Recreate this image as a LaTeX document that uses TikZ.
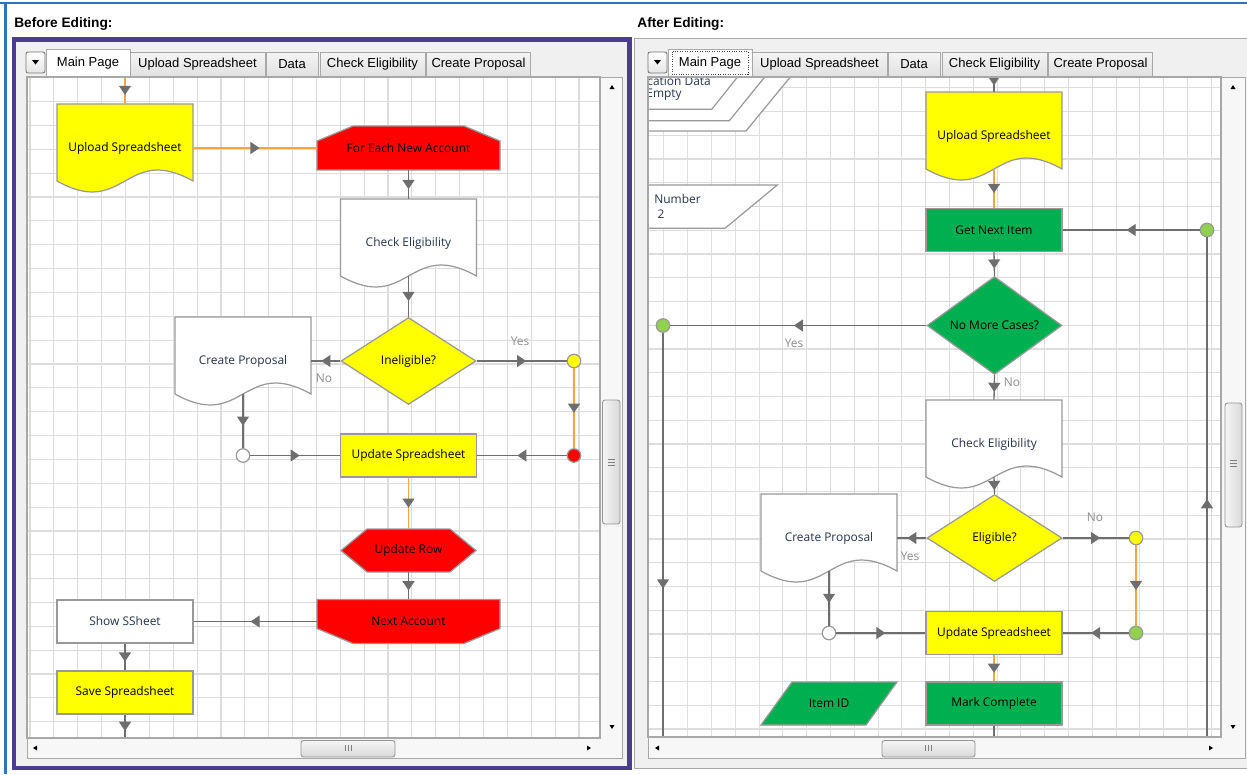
\documentclass[tikz,border=0pt]{standalone}
\usepackage{fontspec}
\setmainfont{Open Sans}
\newfontfamily\uifont{Liberation Sans}
\usetikzlibrary{shapes.geometric, arrows.meta, decorations.markings, positioning}

\definecolor{flowyellow}{HTML}{FFFF00}
\definecolor{flowred}{HTML}{FF0000}
\definecolor{flowgreen}{HTML}{00B050}
\definecolor{dotgreen}{HTML}{92D050}
\definecolor{flowline}{HTML}{6E6E6E}
\definecolor{floworange}{HTML}{F7A540}
\definecolor{shapegray}{HTML}{999999}
\definecolor{gridgray}{HTML}{DDDDDD}
\definecolor{panelgray}{HTML}{F0F0F0}
\definecolor{bordergray}{HTML}{A8A8A8}
\definecolor{framepurple}{HTML}{4B3C8E}
\definecolor{frameblue}{HTML}{2E75B6}
\definecolor{labelgray}{HTML}{8C8C8C}
\definecolor{navytext}{HTML}{24334D}

\newcommand{\nodefont}{\fontsize{6.8}{8}\selectfont}
\newcommand{\tabfont}{\uifont\fontsize{7.4}{9}\selectfont}

\tikzstyle{gridline} = [draw=gridgray, line width=0.65pt]
\tikzstyle{shapeframe} = [draw=shapegray, line width=0.7pt]
\tikzstyle{shapetext} = [rectangle, inner sep=0pt, font=\nodefont]
\tikzstyle{process} = [rectangle, minimum width=2.72cm, minimum height=0.86cm, inner sep=0pt, draw=shapegray, line width=0.7pt, font=\nodefont]
\tikzstyle{decision} = [diamond, minimum width=2.7cm, minimum height=1.74cm, inner sep=0pt, draw=shapegray, line width=0.7pt, font=\nodefont]
\tikzstyle{junction} = [circle, minimum size=0.27cm, inner sep=0pt, draw=shapegray, line width=0.7pt]
\tikzstyle{flowlabel} = [inner sep=0pt, font=\nodefont, text=labelgray]
\tikzstyle{arrow} = [draw=flowline, line width=0.75pt, postaction={decorate}, decoration={markings, mark=at position 0.5 with {\arrow[xshift=2.6pt]{Triangle[length=5.2pt, width=6.8pt, color=flowline]}}}]
\tikzstyle{arrowO} = [arrow, draw=floworange, line width=0.85pt]
\tikzstyle{tab} = [rectangle, draw=bordergray, line width=0.5pt, top color=white!96!black, bottom color=black!12, inner sep=0pt, minimum height=0.5cm, font=\tabfont]
\tikzstyle{tabActive} = [rectangle, draw=bordergray, line width=0.5pt, fill=white, inner sep=0pt, minimum width=1.68cm, minimum height=0.56cm, font=\tabfont]
\tikzstyle{ddbutton} = [rectangle, rounded corners=1.2pt, draw=black!55, line width=0.5pt, top color=white, bottom color=black!10, minimum width=0.38cm, minimum height=0.42cm, inner sep=0pt]
\tikzstyle{thumb} = [draw=black!42, line width=0.5pt, rounded corners=1.5pt]

% document shape: name, x, y, fill, text colour, text
\newcommand{\docnode}[6]{%
  \filldraw[shapeframe, fill=#4] (#2-68,#3-44) -- (#2+68,#3-44) -- (#2+68,#3+33)
    .. controls (#2,#3-5) and (#2,#3+71) .. (#2-68,#3+33) -- cycle;
  \node (#1) [shapetext, text=#5, minimum width=2.72cm, minimum height=1.76cm] at (#2,#3) {#6};
  \coordinate (#1-b) at (#2,#3+33);}
% loop limits and hexagon
\newcommand{\loopstart}[4]{%
  \filldraw[shapeframe, fill=flowred] (#2-91.5,#3+22) -- (#2-91.5,#3-7) -- (#2-55.5,#3-22)
    -- (#2+55.5,#3-22) -- (#2+91.5,#3-7) -- (#2+91.5,#3+22) -- cycle;
  \node (#1) [shapetext, minimum width=3.66cm, minimum height=0.88cm] at (#2,#3) {#4};}
\newcommand{\loopend}[4]{%
  \filldraw[shapeframe, fill=flowred] (#2-91.5,#3-22) -- (#2-91.5,#3+7) -- (#2-55.5,#3+22)
    -- (#2+55.5,#3+22) -- (#2+91.5,#3+7) -- (#2+91.5,#3-22) -- cycle;
  \node (#1) [shapetext, minimum width=3.66cm, minimum height=0.88cm] at (#2,#3) {#4};}
\newcommand{\hexnode}[4]{%
  \filldraw[shapeframe, fill=flowred] (#2-67.5,#3) -- (#2-41.5,#3-21.5) -- (#2+41.5,#3-21.5)
    -- (#2+67.5,#3) -- (#2+41.5,#3+21.5) -- (#2-41.5,#3+21.5) -- cycle;
  \node (#1) [shapetext, minimum width=2.7cm, minimum height=0.86cm] at (#2,#3) {#4};}

\begin{document}
\begin{tikzpicture}[x=0.02cm, y=-0.02cm]
\useasboundingbox (0,0) rectangle (1247,774);
\fill[white] (0,0) rectangle (1247,774);
\draw[frameblue, line width=1.7pt] (0,3) -- (1247,3);
\draw[frameblue, line width=1.7pt] (5.5,3) -- (5.5,774);

% headings
\node (beforeHd) [anchor=base west, inner sep=0pt, font=\uifont\bfseries\fontsize{7.8}{9}\selectfont] at (14,28) {Before Editing:};
\node (afterHd) [anchor=base west, inner sep=0pt, font=\uifont\bfseries\fontsize{7.8}{9}\selectfont] at (637,28) {After Editing:};

% panels
\filldraw[fill=panelgray, draw=framepurple, line width=2.3pt] (14,39.5) rectangle (629.5,768);
\filldraw[fill=panelgray, draw=bordergray, line width=0.5pt] (634,38) rectangle (1247,768);

% ---------------- before editing ----------------
\node (ddL) [ddbutton] at (35.5,62.5) {};
\fill (32,60) -- (39,60) -- (35.5,64.5) -- cycle;
\node (upTabL) [tab, minimum width=2.7cm] at (197.5,64.5) {Upload Spreadsheet};
\node (dataTabL) [tab, minimum width=1.04cm] at (292,64.5) {Data};
\node (chkTabL) [tab, minimum width=2.1cm] at (372.5,64.5) {Check Eligibility};
\node (propTabL) [tab, minimum width=2.08cm] at (478.5,64.5) {Create Proposal};
\filldraw[fill=white!97!black, draw=bordergray, line width=0.5pt] (27,77) rectangle (622,758);
\node (mainTabL) [tabActive] at (88,63) {Main Page};

\fill[white] (27,77) rectangle (600,738);
\begin{scope}
  \clip (27,77) rectangle (600,738);
  \foreach \gx in {0,...,23}
    \draw[gridline] (30+\gx*23.87,77) -- (30+\gx*23.87,738);
  \foreach \gy in {1,...,27}
    \draw[gridline] (27,77.8+\gy*23.85) -- (600,77.8+\gy*23.85);

  \docnode{upL}{125}{148}{flowyellow}{black}{Upload Spreadsheet}
  \loopstart{forL}{408.5}{148}{For Each New Account}
  \docnode{chkL}{408.5}{243}{white}{navytext}{Check Eligibility}
  \node (inelL) [decision, fill=flowyellow] at (408.5,361) {Ineligible?};
  \docnode{propL}{243}{361}{white}{navytext}{Create Proposal}
  \node (updL) [process, fill=flowyellow] at (408.5,455.5) {Update Spreadsheet};
  \hexnode{rowL}{408.5}{550.5}{Update Row}
  \loopend{nextL}{408.5}{621.5}{Next Account}
  \node (showL) [process, fill=white, text=navytext] at (125,621.5) {Show SSheet};
  \node (saveL) [process, fill=flowyellow] at (125,692.5) {Save Spreadsheet};
  \node (yesDotL) [junction, fill=flowyellow] at (574,361) {};
  \node (redDotL) [junction, fill=flowred] at (574,455.5) {};
  \node (joinL) [junction, fill=white] at (243,455.5) {};
  \coordinate (topL) at (125,77);
  \coordinate (endL) at (125,738);

  \draw [arrowO] (topL) -- (upL.north);
  \draw [arrowO] (upL.east) -- (forL.west);
  \draw [arrow] (forL.south) -- (chkL.north);
  \draw [arrow] (chkL-b) -- (inelL.north);
  \draw [arrow] (inelL.east) -- (yesDotL.west);
  \draw [arrowO] (yesDotL.south) -- (redDotL.north);
  \draw [arrow] (redDotL.west) -- (updL.east);
  \draw [arrow] (inelL.west) -- (propL.east);
  \draw [arrow] (propL-b) -- (joinL.north);
  \draw [arrow] (joinL.east) -- (updL.west);
  \draw [arrowO] (updL.south) -- (rowL.north);
  \draw [arrow] (rowL.south) -- (nextL.north);
  \draw [arrow] (nextL.west) -- (showL.east);
  \draw [arrow] (showL.south) -- (saveL.north);
  \draw [arrow] (saveL.south) -- (endL);
  \node (yesL) [flowlabel] at (520,341) {Yes};
  \node (noL) [flowlabel] at (324,378) {No};
\end{scope}
\draw[bordergray, line width=0.6pt] (27,77) rectangle (600,738);

% scroll bars
\fill (612,85) -- (609.5,89) -- (614.5,89) -- cycle;
\fill (612,729) -- (609.5,725) -- (614.5,725) -- cycle;
\draw[thumb, left color=white!96!black, right color=black!15] (602.5,400) rectangle (620,524);
\foreach \gl in {459,462,465} \draw[black!50, line width=0.4pt] (608,\gl) -- (615,\gl);
\fill (33,748) -- (37,745.5) -- (37,750.5) -- cycle;
\fill (591,748) -- (587,745.5) -- (587,750.5) -- cycle;
\draw[thumb, top color=white!96!black, bottom color=black!15] (301,740.5) rectangle (395,757);
\foreach \gl in {345,348,351} \draw[black!50, line width=0.4pt] (\gl,745) -- (\gl,751);

% ---------------- after editing ----------------
\node (ddR) [ddbutton] at (657.5,62.5) {};
\fill (654,60) -- (661,60) -- (657.5,64.5) -- cycle;
\node (upTabR) [tab, minimum width=2.7cm] at (819.5,64.5) {Upload Spreadsheet};
\node (dataTabR) [tab, minimum width=1.04cm] at (914,64.5) {Data};
\node (chkTabR) [tab, minimum width=2.1cm] at (994.5,64.5) {Check Eligibility};
\node (propTabR) [tab, minimum width=2.08cm] at (1100.5,64.5) {Create Proposal};
\filldraw[fill=white!97!black, draw=bordergray, line width=0.5pt] (648,77) rectangle (1245,758);
\node (mainTabR) [tabActive] at (710,63) {Main Page};
\draw[densely dotted, black!70, line width=0.4pt] (672,51.5) rectangle (748,74.5);

\fill[white] (648,77) rectangle (1221,737);
\begin{scope}
  \clip (648,77) rectangle (1221,737);
  \foreach \gx in {0,...,23}
    \draw[gridline] (663.9+\gx*23.8,77) -- (663.9+\gx*23.8,737);
  \foreach \gy in {0,...,27}
    \draw[gridline] (648,87.7+\gy*23.75) -- (1221,87.7+\gy*23.75);

  % data shapes scrolled off to the left
  \filldraw[shapeframe, fill=white] (600,131) -- (746,131) -- (820.6,40) -- (600,40) -- cycle;
  \filldraw[shapeframe, fill=white] (600,120.7) -- (729.3,120.7) -- (794.7,40) -- (600,40) -- cycle;
  \filldraw[shapeframe, fill=white] (600,109.3) -- (711.7,109.3) -- (767.1,40) -- (600,40) -- cycle;
  \node (appR) [shapetext, text=navytext, anchor=west] at (647,81) {cation Data};
  \node (emptyR) [shapetext, text=navytext, anchor=west] at (646,95) {Empty};
  \filldraw[shapeframe, fill=white] (600,185) -- (777.3,185) -- (725,228.3) -- (600,228.3) -- cycle;
  \node (numR) [shapetext, text=navytext, anchor=west] at (654,199) {Number};
  \node (numValR) [shapetext, text=navytext] at (661,214) {2};

  \docnode{upR}{994}{136}{flowyellow}{black}{Upload Spreadsheet}
  \node (getR) [process, fill=flowgreen] at (994,230) {Get Next Item};
  \node (moreR) [decision, fill=flowgreen] at (994.5,325.5) {No More Cases?};
  \docnode{chkR}{994}{444}{white}{navytext}{Check Eligibility}
  \node (eligR) [decision, fill=flowyellow] at (994.5,538) {Eligible?};
  \docnode{propR}{829}{538}{white}{navytext}{Create Proposal}
  \node (updR) [process, fill=flowyellow] at (994,633) {Update Spreadsheet};
  \node (markR) [process, fill=flowgreen] at (994,703.5) {Mark Complete};
  \filldraw[shapeframe, fill=flowgreen] (761,725) -- (792,682) -- (897,682) -- (866,725) -- cycle;
  \node (itemR) [shapetext] at (829,703.5) {Item ID};
  \node (loopDotR) [junction, fill=dotgreen] at (1207,230) {};
  \node (yesDotR) [junction, fill=dotgreen] at (663,325.5) {};
  \node (noDotR) [junction, fill=flowyellow] at (1136,538) {};
  \node (backDotR) [junction, fill=dotgreen] at (1136,633) {};
  \node (joinR) [junction, fill=white] at (829,633) {};
  \coordinate (topR) at (994,70);
  \coordinate (downR) at (663,835);
  \coordinate (riseR) at (1207,770);
  \coordinate (endR) at (994,757);

  \draw [arrow] (topR) -- (upR.north);
  \draw [arrowO] (upR-b) -- (getR.north);
  \draw [arrow] (getR.south) -- (moreR.north);
  \draw [arrow] (moreR.west) -- (yesDotR.east);
  \draw [arrow] (yesDotR.south) -- (downR);
  \draw [arrow] (moreR.south) -- (chkR.north);
  \draw [arrow] (chkR-b) -- (eligR.north);
  \draw [arrow] (eligR.east) -- (noDotR.west);
  \draw [arrowO] (noDotR.south) -- (backDotR.north);
  \draw [arrow] (backDotR.west) -- (updR.east);
  \draw [arrow] (eligR.west) -- (propR.east);
  \draw [arrow] (propR-b) -- (joinR.north);
  \draw [arrow] (joinR.east) -- (updR.west);
  \draw [arrowO] (updR.south) -- (markR.north);
  \draw [arrow] (markR.south) -- (endR);
  \draw [arrow] (riseR) -- (loopDotR.south);
  \draw [arrow] (loopDotR.west) -- (getR.east);
  \node (yesMoreR) [flowlabel] at (794,343) {Yes};
  \node (noMoreR) [flowlabel] at (1012,382) {No};
  \node (noEligR) [flowlabel] at (1095,517) {No};
  \node (yesEligR) [flowlabel] at (910,556) {Yes};
\end{scope}
\draw[bordergray, line width=0.6pt] (648,77) rectangle (1221,737);

% scroll bars
\fill (1233,85) -- (1230.5,89) -- (1235.5,89) -- cycle;
\fill (1233,729) -- (1230.5,725) -- (1235.5,725) -- cycle;
\draw[thumb, left color=white!96!black, right color=black!15] (1225,403) rectangle (1242,527);
\foreach \gl in {460,463,466} \draw[black!50, line width=0.4pt] (1230,\gl) -- (1237,\gl);
\fill (655,748) -- (659,745.5) -- (659,750.5) -- cycle;
\fill (1213,748) -- (1209,745.5) -- (1209,750.5) -- cycle;
\draw[thumb, top color=white!96!black, bottom color=black!15] (882,740.5) rectangle (975,757);
\foreach \gl in {925,928,931} \draw[black!50, line width=0.4pt] (\gl,745) -- (\gl,751);
\end{tikzpicture}
\end{document}
